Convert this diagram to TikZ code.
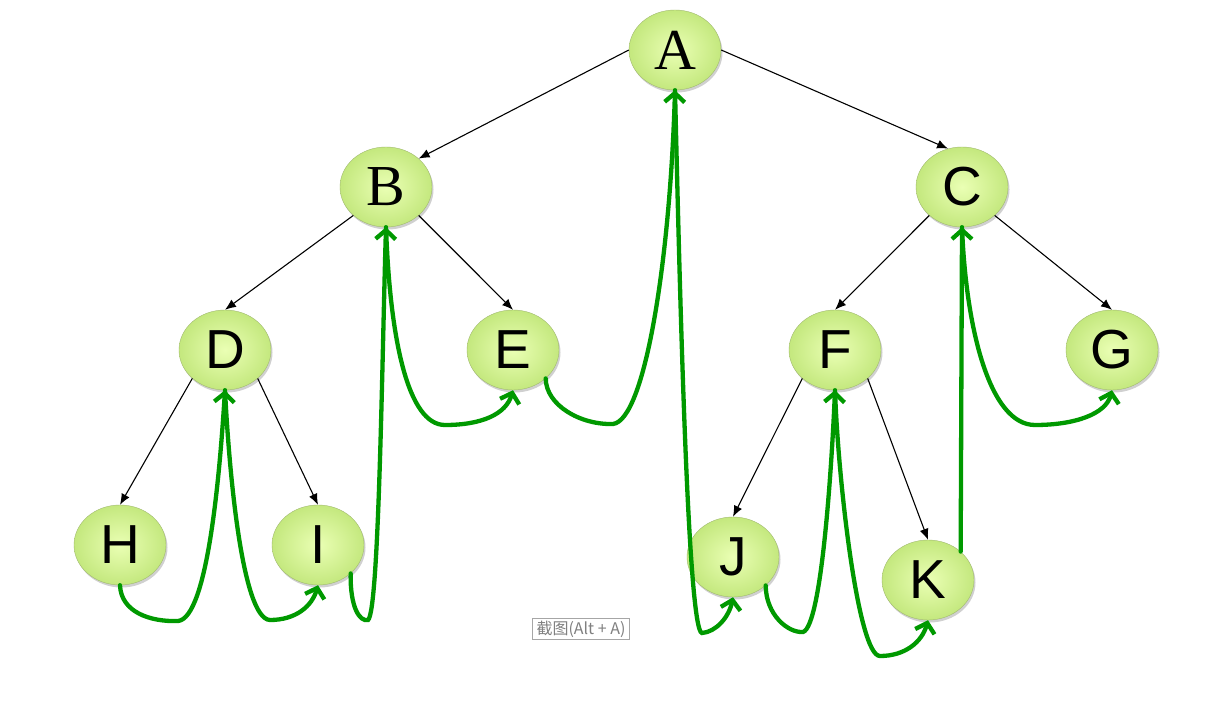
\documentclass[tikz,border=0pt]{standalone}
\usepackage{fontspec}
\setmainfont{Liberation Serif}
\newfontfamily\sansf{Liberation Sans}
\newfontfamily\cjk{Noto Sans CJK SC}
\usetikzlibrary{arrows.meta,shapes.geometric,shadows}
\definecolor{thread}{RGB}{0,153,0}
\definecolor{nodein}{RGB}{234,255,180}
\definecolor{nodeout}{RGB}{196,232,126}
\definecolor{nodeedge}{RGB}{160,185,110}
\tikzset{
  tnode/.style={ellipse, minimum width=92pt, minimum height=80pt, inner sep=0pt,
    shading=radial, inner color=nodein, outer color=nodeout,
    draw=nodeedge, line width=0.4pt,
    drop shadow={shadow xshift=1.5pt, shadow yshift=-2.5pt, opacity=0.3, fill=black!60}},
  serifl/.style={font=\fontsize{58pt}{60pt}\selectfont},
  sansl/.style={font=\sansf\fontsize{55pt}{57pt}\selectfont},
  tedge/.style={line width=1.1pt, -{Latex[length=11pt,width=9pt]}},
  threadl/.style={draw=thread, line width=4.3pt, line cap=round,
    -{Straight Barb[length=9pt,width=20pt,line width=4.3pt]}},
  tip/.style={draw=black!35, line width=0.8pt, fill=white, inner xsep=4pt, inner ysep=2pt,
    font=\cjk\fontsize{16pt}{18pt}\selectfont, text=black!50}
}
\begin{document}
\begin{tikzpicture}[x=1pt,y=-1pt]
\useasboundingbox (0,0) rectangle (1212,711);
\fill[white] (0,0) rectangle (1212,711);

\node[tnode, serifl] (A) at (675,50) {A};
\node[tnode, serifl] (B) at (386,187) {B};
\node[tnode, sansl] (C) at (962,187) {C};
\node[tnode, sansl] (D) at (225,350) {D};
\node[tnode, sansl] (E) at (513,350) {E};
\node[tnode, sansl] (F) at (835,350) {F};
\node[tnode, sansl] (G) at (1112,350) {G};
\node[tnode, sansl] (H) at (120,545) {H};
\node[tnode, sansl] (I) at (318,545) {I};
\node[tnode, sansl] (J) at (733,557) {J};
\node[tnode, sansl] (K) at (928,580) {K};

% tree edges
\draw[tedge] (A.west) -- (B.north east);
\draw[tedge] (A.east) -- (C.110);
\draw[tedge] (B.south west) -- (D.north);
\draw[tedge] (B.south east) -- (E.north);
\draw[tedge] (C.south west) -- (F.north);
\draw[tedge] (C.south east) -- (G.north);
\draw[tedge] (D.south west) -- (H.north);
\draw[tedge] (D.south east) -- (I.north);
\draw[tedge] (F.south west) -- (J.north);
\draw[tedge] (F.south east) -- (K.north);

% threading
\draw[threadl] (H.south) .. controls (121,612) and (150,622) .. (178,621)
  .. controls (208,618) and (220,470) .. (D.south);
\draw[threadl] (D.south) .. controls (229,470) and (242,619) .. (270,620)
  .. controls (296,620) and (312,606) .. (I.south);
\draw[threadl] (I.south east) .. controls (350,608) and (360,622) .. (368,620)
  .. controls (379,612) and (382,360) .. (B.south);
\draw[threadl] (B.south) .. controls (390,340) and (408,425) .. (445,425)
  .. controls (482,425) and (506,414) .. (E.south);
\draw[threadl] (E.south east) .. controls (546,405) and (580,425) .. (613,424)
  .. controls (645,420) and (670,260) .. (A.south);
\draw[threadl] (A.south) .. controls (680,300) and (688,632) .. (702,633)
  .. controls (716,632) and (729,617) .. (J.south);
\draw[threadl] (J.south east) .. controls (766,615) and (788,633) .. (803,632)
  .. controls (822,626) and (832,460) .. (F.south);
\draw[threadl] (F.south) .. controls (838,480) and (858,656) .. (880,656)
  .. controls (905,656) and (922,642) .. (K.south);
\draw[threadl] (K.north east) -- (C.south);
\draw[threadl] (C.south) .. controls (966,330) and (990,425) .. (1035,425)
  .. controls (1075,425) and (1106,414) .. (G.south);

\node[tip] (tt) at (581,629) {截图(Alt + A)};
\end{tikzpicture}
\end{document}
